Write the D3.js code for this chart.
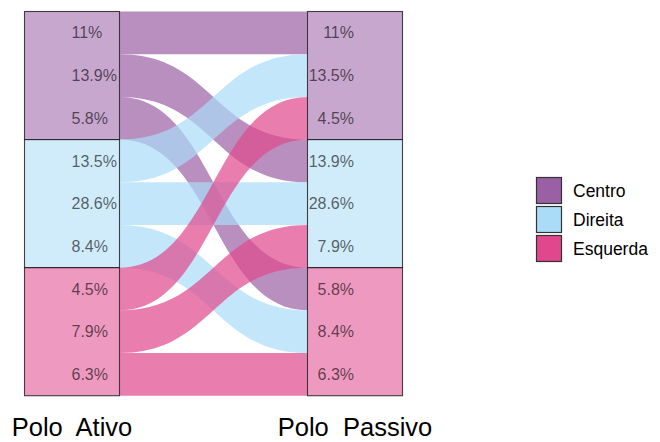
<!DOCTYPE html>
<html><head><meta charset="utf-8">
<script src="https://cdn.jsdelivr.net/npm/d3@7"></script>
<style>body{margin:0;background:#fff}svg{display:block;font-family:"Liberation Sans",Arial,sans-serif}</style>
</head><body><svg id="c" width="660" height="442"></svg>
<script>
const categories = ["Centro","Direita","Esquerda"];
const axesLabels = ["Polo  Ativo","Polo  Passivo"];
// flows: from (Polo Ativo) -> to (Polo Passivo)
const flowFrom = ["Centro","Centro","Centro","Direita","Direita","Direita","Esquerda","Esquerda","Esquerda"];
const flowTo   = ["Centro","Direita","Esquerda","Centro","Direita","Esquerda","Centro","Direita","Esquerda"];
const flowCount = [1,1,1,1,1,1,1,1,1];
const flowPct  = ["11%","13.9%","5.8%","13.5%","28.6%","8.4%","4.5%","7.9%","6.3%"];
const colors = ["#9b5fa5","#aadcf8","#e0478c"];

const svg = d3.select("#c");
const color = d3.scaleOrdinal().domain(categories).range(colors);
const total = d3.sum(flowCount);
const y = d3.scaleLinear().domain([0,total]).range([11.5,395.7]);
const x = d3.scalePoint().domain(axesLabels).range([72,355]);
const sw = 95;

const flows = flowFrom.map((f,i)=>({from:f,to:flowTo[i],n:flowCount[i],pct:flowPct[i]}));
let acc=0;
const leftStrata = categories.map(c=>{const s=acc; flows.filter(d=>d.from===c).forEach(d=>{d.l0=acc; acc+=d.n; d.l1=acc;}); return {cat:c,y0:s,y1:acc};});
acc=0;
const rightStrata = categories.map(c=>{const s=acc; categories.forEach(fc=>{flows.filter(d=>d.to===c && d.from===fc).forEach(d=>{d.r0=acc; acc+=d.n; d.r1=acc;});}); return {cat:c,y0:s,y1:acc};});

const xl = x(axesLabels[0])+sw/2, xr = x(axesLabels[1])-sw/2, xm=(xl+xr)/2;
svg.append("g").selectAll("path").data(flows).join("path")
  .attr("d",d=>{const a=y(d.l0),b=y(d.l1),c=y(d.r0),e=y(d.r1);
    return `M${xl},${a}C${xm},${a} ${xm},${c} ${xr},${c}L${xr},${e}C${xm},${e} ${xm},${b} ${xl},${b}Z`;})
  .attr("fill",d=>color(d.from)).attr("fill-opacity",0.7);

function strata(data,ax){
  svg.append("g").selectAll("rect").data(data).join("rect")
    .attr("x",x(ax)-sw/2).attr("width",sw)
    .attr("y",d=>y(d.y0)).attr("height",d=>y(d.y1)-y(d.y0))
    .attr("fill",d=>color(d.cat)).attr("fill-opacity",0.55)
    .attr("stroke","#222").attr("stroke-opacity",0.85).attr("stroke-width",1.1);
}
strata(leftStrata,axesLabels[0]);
strata(rightStrata,axesLabels[1]);

svg.append("g").selectAll("text").data(flows).join("text")
  .attr("x",x(axesLabels[0])-0.5).attr("y",d=>y((d.l0+d.l1)/2))
  .attr("dy","0.35em").attr("text-anchor","start").attr("font-size",16)
  .attr("fill","#000").attr("fill-opacity",0.62).text(d=>d.pct);
svg.append("g").selectAll("text").data(flows).join("text")
  .attr("x",x(axesLabels[1])-1).attr("y",d=>y((d.r0+d.r1)/2))
  .attr("dy","0.35em").attr("text-anchor","end").attr("font-size",16)
  .attr("fill","#000").attr("fill-opacity",0.62).text(d=>d.pct);

svg.append("g").selectAll("text").data(axesLabels).join("text")
  .attr("x",d=>x(d)).attr("y",436).attr("text-anchor","middle")
  .attr("font-size",25.5).style("white-space","pre").attr("fill","#000").text(d=>d);

const lg = svg.append("g").attr("transform","translate(536,177)");
const li = lg.selectAll("g").data(categories).join("g").attr("transform",(d,i)=>`translate(0,${i*29})`);
li.append("rect").attr("x",0.5).attr("y",0.5).attr("width",25).attr("height",26)
  .attr("fill",d=>color(d)).attr("stroke","#333").attr("stroke-width",1.2);
li.append("text").attr("x",37).attr("y",13.5).attr("dy","0.35em").attr("font-size",17.5).attr("fill","#000").text(d=>d);
</script></body></html>
